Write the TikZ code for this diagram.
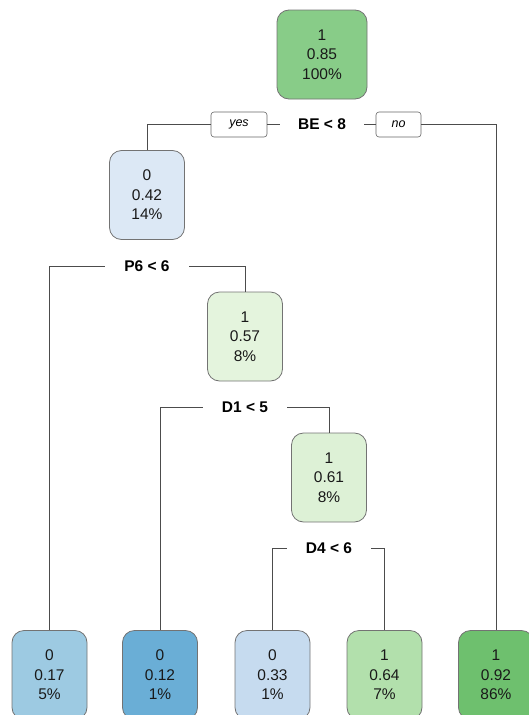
\documentclass[tikz,border=0pt]{standalone}
\usepackage{fontspec}
\setmainfont{Liberation Sans}
\usetikzlibrary{positioning}
\definecolor{g85}{HTML}{88CC88}
\definecolor{g92}{HTML}{6EC06E}
\definecolor{g64}{HTML}{B2E0AC}
\definecolor{g61}{HTML}{DDF1D6}
\definecolor{g57}{HTML}{E4F4DD}
\definecolor{b42}{HTML}{DCE8F5}
\definecolor{b33}{HTML}{C6DBEF}
\definecolor{b17}{HTML}{9DCAE2}
\definecolor{b12}{HTML}{6AAED6}
\tikzset{
    x=1pt,
    y=-1pt,
    tree node/.style={
        draw=black!55,
        line width=0.8pt,
        rounded corners=12pt,
        minimum width=75pt,
        minimum height=89pt,
        inner sep=0pt,
        align=center,
        text=black!90,
        font=\fontsize{15.5}{19.5}\selectfont
    },
    split node/.style={
        font=\bfseries\fontsize{15.5}{18}\selectfont,
        minimum width=84pt,
        inner sep=0pt
    },
    answer node/.style={
        draw=black!60,
        line width=0.6pt,
        rounded corners=3pt,
        minimum height=25pt,
        inner sep=0pt,
        font=\itshape\fontsize{12.5}{14}\selectfont
    },
    branch/.style={
        draw=black!70,
        line width=0.8pt
    }
}

\begin{document}
\begin{tikzpicture}
    \clip (0,0) rectangle (529,715);
    \useasboundingbox (0,0) rectangle (529,715);

    \node[tree node, fill=g85, minimum width=90pt] (01) at (322,54.5) {1\\0.85\\100\%};
    \node[split node] (s0) at (322,124.5) {BE < 8};
    \node[answer node, minimum width=56pt] (yes) at (239,124.5) {yes};
    \node[answer node, minimum width=45pt] (no) at (398.5,124.5) {no};

    \node[tree node, fill=b42] (11) at (147,195) {0\\0.42\\14\%};
    \node[split node] (s1) at (147,266) {P6 < 6};
    \node[tree node, fill=g57] (22) at (245,336.5) {1\\0.57\\8\%};
    \node[split node] (s2) at (245,407) {D1 < 5};
    \node[tree node, fill=g61] (32) at (329,477.5) {1\\0.61\\8\%};
    \node[split node] (s3) at (329,548) {D4 < 6};

    % leaves
    \node[tree node, fill=b17] (21) at (49.5,675) {0\\0.17\\5\%};
    \node[tree node, fill=b12] (31) at (160,675) {0\\0.12\\1\%};
    \node[tree node, fill=b33] (41) at (272.5,675) {0\\0.33\\1\%};
    \node[tree node, fill=g64] (42) at (384.5,675) {1\\0.64\\7\%};
    \node[tree node, fill=g92] (12) at (496,675) {1\\0.92\\86\%};

    \draw[branch] (11.north) |- (yes.west);
    \draw[branch] (yes.east) -- (s0.west);
    \draw[branch] (s0.east) -- (no.west);
    \draw[branch] (no.east) -| (12.north);
    \draw[branch] (21.north) |- (s1.west);
    \draw[branch] (s1.east) -| (22.north);
    \draw[branch] (31.north) |- (s2.west);
    \draw[branch] (s2.east) -| (32.north);
    \draw[branch] (41.north) |- (s3.west);
    \draw[branch] (s3.east) -| (42.north);
\end{tikzpicture}
\end{document}
